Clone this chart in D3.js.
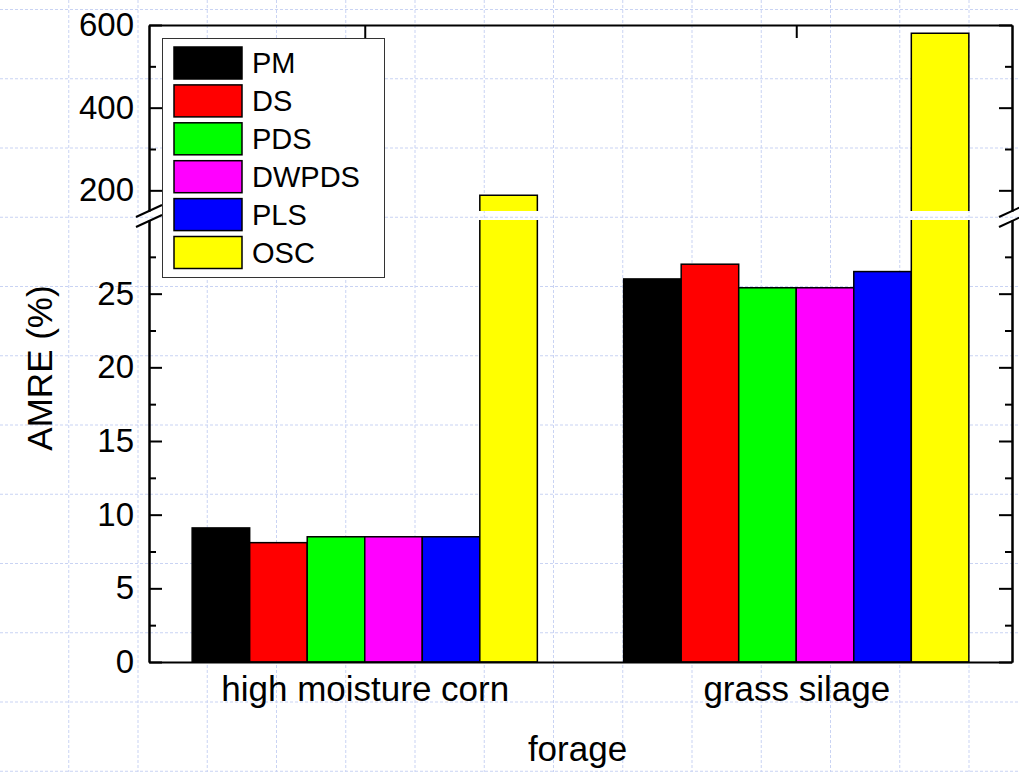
<!DOCTYPE html>
<html>
<head>
<meta charset="utf-8">
<script src="https://cdn.jsdelivr.net/npm/d3@7"></script>
<style>
  body { margin: 0; background: #fff; }
  svg { display: block; font-family: "Liberation Sans", Arial, sans-serif; }
</style>
</head>
<body>
<div id="chart"></div>
<script>
// data
var categories = ['high moisture corn', 'grass silage'];
var methods = ['PM', 'DS', 'PDS', 'DWPDS', 'PLS', 'OSC'];
var colors = ['#000000', '#ff0000', '#00ff00', '#ff00ff', '#0000ff', '#ffff00'];
var hmcValues = [9.1, 8.1, 8.5, 8.5, 8.5, 188];
var grassValues = [26.0, 27.0, 25.4, 25.4, 26.5, 580];
var lowTicks = [0, 5, 10, 15, 20, 25];
var lowMinor = [2.5, 7.5, 12.5, 17.5, 22.5, 27.5];
var upTicks = [200, 400, 600];
var upMinor = [300, 500];

var W = 1019, H = 772;
var plotLeft = 149, plotRight = 1012, plotTop = 25, plotBottom = 662;
var breakTop = 211, breakBottom = 220;

var svg = d3.select('#chart').append('svg')
    .attr('width', W)
    .attr('height', H);

// page grid (dashed light blue)
var grid = svg.append('g').attr('stroke', '#c9d3f3').attr('stroke-width', 1)
    .attr('stroke-dasharray', '3,2');
d3.range(1, 15).forEach(function (k) {
    grid.append('line').attr('x1', k * 69.25 - 0.5).attr('x2', k * 69.25 - 0.5)
        .attr('y1', 0).attr('y2', H);
});
d3.range(0, 12).forEach(function (k) {
    grid.append('line').attr('y1', 9.5 + k * 69.25).attr('y2', 9.5 + k * 69.25)
        .attr('x1', 0).attr('x2', W);
});

// scales
var yLow = d3.scaleLinear().domain([0, 30]).range([plotBottom, breakBottom]);
var yUp = d3.scaleLinear().domain([150, 600]).range([breakTop, plotTop]);
var x0 = d3.scaleBand().domain(categories).range([plotLeft, plotRight])
    .paddingInner(0.2).paddingOuter(0.1);
var x1 = d3.scaleBand().domain(methods).range([0, x0.bandwidth()]);

var rows = [hmcValues, grassValues];

// bars
var bars = svg.append('g');
categories.forEach(function (c, ci) {
    rows[ci].forEach(function (v, i) {
        var bx = x0(c) + x1(methods[i]);
        var bw = x1.bandwidth();
        if (v <= 30) {
            bars.append('rect')
                .attr('x', bx).attr('y', yLow(v))
                .attr('width', bw).attr('height', yLow(0) - yLow(v))
                .attr('fill', colors[i]).attr('stroke', '#000').attr('stroke-width', 1.5);
        } else {
            // lower piece, open at the break
            var y0 = yLow(0), y1 = yLow(30);
            bars.append('rect')
                .attr('x', bx).attr('y', y1).attr('width', bw).attr('height', y0 - y1)
                .attr('fill', colors[i]);
            bars.append('path')
                .attr('d', 'M' + bx + ',' + y1 + 'V' + y0 + 'H' + (bx + bw) + 'V' + y1)
                .attr('fill', 'none').attr('stroke', '#000').attr('stroke-width', 1.5);
            // upper piece, open at the break
            var u0 = yUp(150), u1 = yUp(v);
            bars.append('rect')
                .attr('x', bx).attr('y', u1).attr('width', bw).attr('height', u0 - u1)
                .attr('fill', colors[i]);
            bars.append('path')
                .attr('d', 'M' + bx + ',' + u0 + 'V' + u1 + 'H' + (bx + bw) + 'V' + u0)
                .attr('fill', 'none').attr('stroke', '#000').attr('stroke-width', 1.5);
        }
    });
});

// axes
function styleAxis(g) {
    g.selectAll('path, line').attr('stroke', '#000').attr('stroke-width', 2);
    g.selectAll('text').attr('fill', '#000').attr('font-size', 33)
        .attr('font-family', '"Liberation Sans", Arial, sans-serif');
}

var axisG = svg.append('g');
function yAxes(x, make, labels) {
    var tf = labels ? null : '';
    axisG.append('g').attr('transform', 'translate(' + x + ',0)')
        .call(make(yLow).tickValues(lowTicks).tickSize(-13).tickSizeOuter(0).tickPadding(15).tickFormat(tf))
        .call(styleAxis);
    axisG.append('g').attr('transform', 'translate(' + x + ',0)')
        .call(make(yUp).tickValues(upTicks).tickSize(-13).tickSizeOuter(0).tickPadding(15).tickFormat(tf))
        .call(styleAxis);
    axisG.append('g').attr('transform', 'translate(' + x + ',0)')
        .call(make(yLow).tickValues(lowMinor).tickSize(-7).tickSizeOuter(0).tickFormat(''))
        .call(styleAxis);
    axisG.append('g').attr('transform', 'translate(' + x + ',0)')
        .call(make(yUp).tickValues(upMinor).tickSize(-7).tickSizeOuter(0).tickFormat(''))
        .call(styleAxis);
}
yAxes(plotLeft, d3.axisLeft, true);
yAxes(plotRight, d3.axisRight, false);

var xc = d3.scalePoint().domain(categories).range([plotLeft, plotRight]).padding(0.5);
axisG.append('g').attr('transform', 'translate(0,' + plotBottom + ')')
    .call(d3.axisBottom(xc).tickSize(0).tickSizeOuter(0).tickPadding(14))
    .call(styleAxis)
    .selectAll('text').attr('font-size', 35);
axisG.append('g').attr('transform', 'translate(0,' + plotTop + ')')
    .call(d3.axisTop(xc).tickSize(-13).tickSizeOuter(0).tickFormat(''))
    .call(styleAxis);

// break marks
[plotLeft, plotRight].forEach(function (ax) {
    [breakTop, breakBottom + 1].forEach(function (by) {
        axisG.append('line')
            .attr('x1', ax - 13).attr('y1', by + 6)
            .attr('x2', ax + 13).attr('y2', by - 6)
            .attr('stroke', '#000').attr('stroke-width', 2);
    });
});

// axis titles
svg.append('text')
    .attr('x', (plotLeft + plotRight) / 2 - 3).attr('y', 761)
    .attr('text-anchor', 'middle').attr('font-size', 35)
    .text('forage');
svg.append('text')
    .attr('transform', 'translate(52,368) rotate(-90)')
    .attr('text-anchor', 'middle').attr('font-size', 35)
    .text('AMRE (%)');

// legend
var legend = svg.append('g');
legend.append('rect')
    .attr('x', 162.5).attr('y', 38.5).attr('width', 222).attr('height', 239)
    .attr('fill', '#fff').attr('stroke', '#333').attr('stroke-width', 1);
methods.forEach(function (m, i) {
    var ly = 47 + i * 37.9;
    legend.append('rect')
        .attr('x', 174).attr('y', ly).attr('width', 68).attr('height', 32)
        .attr('fill', colors[i]).attr('stroke', '#000').attr('stroke-width', 1.5);
    legend.append('text')
        .attr('x', 252).attr('y', ly + 26)
        .attr('font-size', 29)
        .text(m);
});
</script>
</body>
</html>
